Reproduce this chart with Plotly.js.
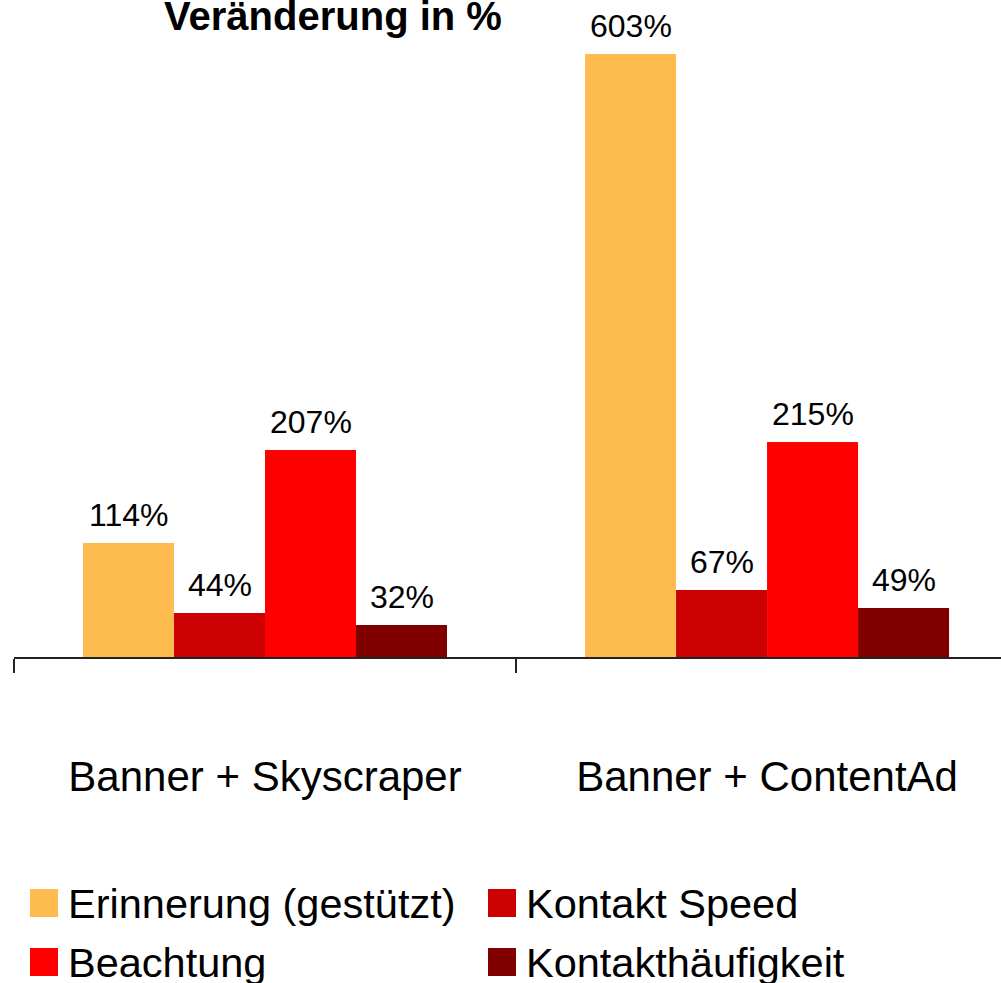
<!DOCTYPE html>
<html>
<head>
<meta charset="utf-8">
<script src="https://cdn.plot.ly/plotly-3.0.1.min.js"></script>
<style>
	body { margin: 0; overflow: hidden; background: #fff; }
	#chart { width: 1001px; height: 983px; }
</style>
</head>
<body>
<div id="chart"></div>
<script>
const categories = ["Banner + Skyscraper", "Banner + ContentAd"];
const seriesNames = ["Erinnerung (gestützt)", "Kontakt Speed", "Beachtung", "Kontakthäufigkeit"];
const erinnerung = [114, 603];
const kontaktSpeed = [44, 67];
const beachtung = [207, 215];
const kontaktHaeufigkeit = [32, 49];
const colors = ["#FDBB50", "#CC0000", "#FF0000", "#800000"];

const font = "Liberation Sans, Arial, sans-serif";
const allValues = [erinnerung, kontaktSpeed, beachtung, kontaktHaeufigkeit];

// plot area in pixels: left 14, top 40, bottom 657
const plotL = 14, plotT = 40, plotB = 657, plotW = 987;
const bargap = 0.275;
const catPx = plotW / 1.966;
const barPx = catPx * (1 - bargap) / 4;

function px2x(px) {
	return (px - plotL) / plotW;
}
function px2y(py) {
	return (plotB - py) / (plotB - plotT);
}

const traces = allValues.map((vals, i) => {
	return {
		type: "bar",
		name: seriesNames[i],
		x: categories,
		y: vals,
		marker: { color: colors[i], line: { width: 0 } },
		showlegend: false,
		hoverinfo: "skip"
	};
});

const annotations = [];
const shapes = [];

// value labels over each bar
allValues.forEach((vals, i) => {
	vals.forEach((v, j) => {
		annotations.push({
			x: categories[j],
			y: v,
			xref: "x",
			yref: "y",
			text: v + "%",
			showarrow: false,
			xanchor: "center",
			yanchor: "bottom",
			xshift: (i - 1.5) * barPx,
			yshift: 8,
			font: { family: font, size: 32, color: "#000" }
		});
	});
});

// legend, two columns
const legX = [30, 488];
const legY = [903, 962];
seriesNames.forEach((name, i) => {
	const col = i % 2;
	const row = Math.floor(i / 2);
	shapes.push({
		type: "rect",
		xref: "paper",
		yref: "paper",
		x0: px2x(legX[col]),
		x1: px2x(legX[col] + 28),
		y0: px2y(legY[row] - 14),
		y1: px2y(legY[row] + 14),
		fillcolor: colors[i],
		line: { width: 0 }
	});
	annotations.push({
		x: px2x(legX[col] + 36),
		y: px2y(legY[row]),
		xref: "paper",
		yref: "paper",
		text: name,
		showarrow: false,
		xanchor: "left",
		yanchor: "middle",
		font: { family: font, size: 41.5, color: "#000" }
	});
});

const layout = {
	width: 1001,
	height: 983,
	margin: { l: plotL, r: 0, t: plotT, b: 983 - plotB, pad: 0 },
	paper_bgcolor: "#fff",
	plot_bgcolor: "#fff",
	barmode: "group",
	bargap: bargap,
	bargroupgap: 0,
	showlegend: false,
	title: {
		text: "Veränderung in %",
		font: { family: font, size: 40, color: "#000", weight: "bold" },
		xref: "container",
		yref: "container",
		x: 333 / 1001,
		xanchor: "center",
		y: 1 - 16 / 983,
		yanchor: "middle"
	},
	xaxis: {
		type: "category",
		range: [-0.5, 1.466],
		showline: true,
		linecolor: "#222",
		linewidth: 2,
		ticks: "outside",
		tickson: "boundaries",
		ticklen: 14,
		tickwidth: 2,
		tickcolor: "#222",
		ticklabelstandoff: 82,
		tickfont: { family: font, size: 42, color: "#000" },
		showgrid: false,
		zeroline: false,
		fixedrange: true
	},
	yaxis: {
		visible: false,
		range: [0, plotB - plotT],
		showgrid: false,
		zeroline: false,
		fixedrange: true
	},
	annotations: annotations,
	shapes: shapes
};

Plotly.newPlot("chart", traces, layout, {
	displayModeBar: false,
	staticPlot: true
});
</script>
</body>
</html>
